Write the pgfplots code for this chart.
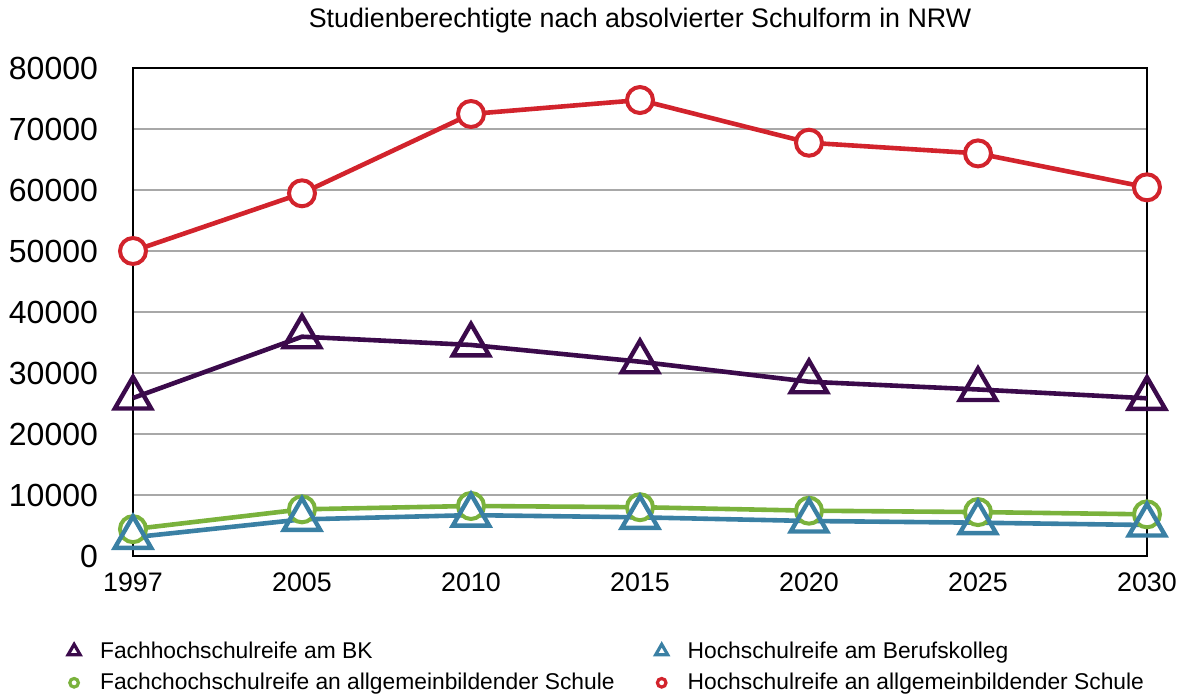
\documentclass[border=0pt]{standalone}
\usepackage{pgfplots}
\pgfplotsset{compat=1.18}
\usepackage{fontspec}
\setmainfont{Liberation Sans}
\definecolor{cpurple}{HTML}{3B0A4B}
\definecolor{cred}{HTML}{D2232C}
\definecolor{cgreen}{HTML}{7AB23C}
\definecolor{cblue}{HTML}{3A80A4}
\definecolor{cgrid}{HTML}{A8A8A8}
\begin{document}
\begin{tikzpicture}
\path (0,0) rectangle (592pt,347.5pt);
\begin{axis}[
  at={(66.5pt,69.5pt)}, anchor=south west,
  scale only axis, width=507pt, height=244pt,
  xmin=0, xmax=6, ymin=0, ymax=80000,
  xtick={0,1,2,3,4,5,6},
  xticklabels={1997,2005,2010,2015,2020,2025,2030},
  ytick={0,10000,...,80000},
  major tick length=0pt,
  ymajorgrids, grid style={cgrid, line width=1.1pt},
  axis line style={black, line width=1pt},
  clip=false,
  /pgf/number format/.cd, assume math mode=true, 1000 sep={},
  /pgfplots/.cd,
  yticklabel style={font=\fontsize{16}{19}\selectfont, xshift=-14pt},
  xticklabel style={font=\fontsize{13.4}{16}\selectfont, yshift=-5pt},
  scaled y ticks=false,
  title={Studienberechtigte nach absolvierter Schulform in NRW},
  title style={font=\fontsize{13.4}{16}\selectfont, inner sep=0pt, at={(axis description cs:0.5,1)}, anchor=center, yshift=17.5pt},
  legend columns=2, transpose legend,
  legend style={draw=none, fill=none, font=\fontsize{11.4}{14}\selectfont,
    inner sep=0pt, outer sep=0pt,
    at={(axis description cs:-0.064,-0.167)}, anchor=north west,
    /tikz/column 1/.style={column sep=8pt},
    /tikz/column 2/.style={column sep=18.5pt},
    /tikz/column 3/.style={column sep=8pt},
    row sep=2pt},
  legend cell align=left,
  legend image code/.code={\draw[#1, every mark/.append style={scale=0.33, line width=1.6pt}] plot[only marks] coordinates {(0pt,0pt)};},
]
\addplot[cpurple, line width=2.3pt, mark=triangle, mark size=10.5pt, mark options={fill=white, line width=2.2pt}]
  coordinates {(0,25900) (1,35950) (2,34600) (3,31850) (4,28570) (5,27300) (6,25850)};
\addlegendentry{Fachhochschulreife am BK}
\addplot[cgreen, line width=2.3pt, mark=*, mark size=6.5pt, mark options={fill=white, line width=2pt}]
  coordinates {(0,4400) (1,7650) (2,8200) (3,8000) (4,7430) (5,7200) (6,6830)};
\addlegendentry{Fachchochschulreife an allgemeinbildender Schule}
\addplot[cblue, line width=2.3pt, mark=triangle, mark size=10.5pt, mark options={fill=white, line width=2.2pt}]
  coordinates {(0,3060) (1,6000) (2,6700) (3,6340) (4,5740) (5,5460) (6,5080)};
\addlegendentry{Hochschulreife am Berufskolleg}
\addplot[cred, line width=2.3pt, mark=*, mark size=6.5pt, mark options={fill=white, line width=2pt}]
  coordinates {(0,50000) (1,59460) (2,72460) (3,74750) (4,67750) (5,66000) (6,60440)};
\addlegendentry{Hochschulreife an allgemeinbildender Schule}
\end{axis}
\end{tikzpicture}
\end{document}
